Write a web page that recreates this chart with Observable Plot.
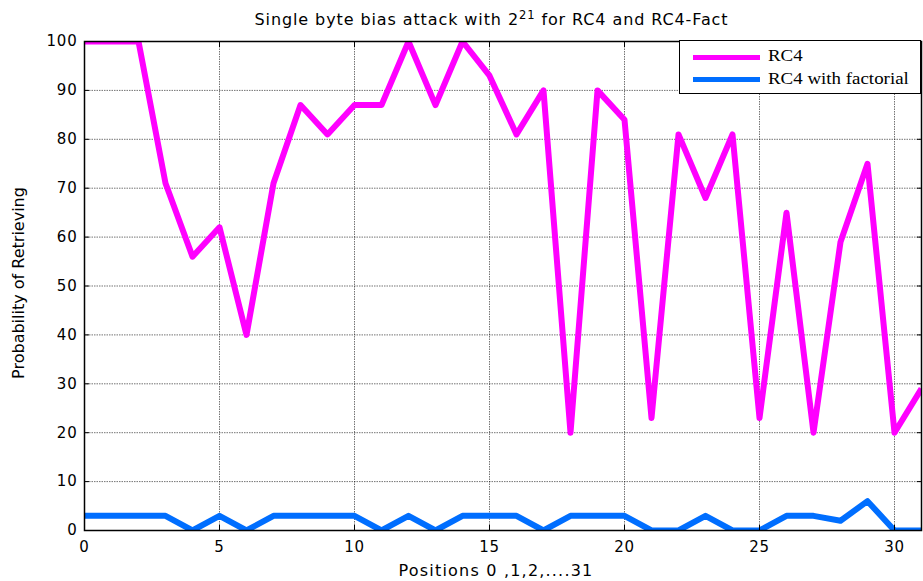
<!DOCTYPE html>
<html>
<head>
<meta charset="utf-8">
<script src="https://cdn.jsdelivr.net/npm/d3@7"></script>
<script src="https://cdn.jsdelivr.net/npm/@observablehq/plot@0.6"></script>
<style>
  body { margin: 0; background: #fff; }
  #wrap { position: relative; width: 923px; height: 581px; overflow: hidden; background: #fff; }
  #title { height: 31px; box-sizing: border-box; padding-top: 12px; padding-left: 62px; padding-right: 2px;
           text-align: center; font: 16px "DejaVu Sans"; line-height: 15px; letter-spacing: 0.9px; white-space: nowrap; color: #000; }
  #title .sup { position: relative; top: -6px; font-size: 11.5px; }
  #chart svg text { letter-spacing: 0.8px; }
  .lg-box { position: absolute; left: 679px; top: 40px; width: 242px; height: 54px; box-sizing: border-box;
            border: 1px solid #000; background: #fff; }
  .lg-sw { position: absolute; left: 693px; width: 67px; height: 5.5px; }
  .lg-tx { position: absolute; left: 768px; font: 16.6px "Liberation Serif"; line-height: 16.6px; white-space: nowrap;
           transform: scaleX(1.14); transform-origin: left center; color: #000; }
</style>
</head>
<body>
<div id="wrap">
  <div id="title"></div>
  <div id="chart"></div>
</div>
<script>
// ---- data ----
const positions = [0,1,2,3,4,5,6,7,8,9,10,11,12,13,14,15,16,17,18,19,20,21,22,23,24,25,26,27,28,29,30,31];
const rc4       = [100,100,100,71,56,62,40,71,87,81,87,87,100,87,100,93,81,90,20,90,84,23,81,68,81,23,65,20,59,75,20,29];
const rc4Fact   = [3,3,3,3,0,3,0,3,3,3,3,0,3,0,3,3,3,0,3,3,3,0,0,3,0,0,3,3,2,6,0,0];
const seriesNames = ["RC4", "RC4 with factorial"];
const seriesColors = ["#ff00ff", "#006eff"];
const xTicks = [0,5,10,15,20,25,30];
const yTicks = [0,10,20,30,40,50,60,70,80,90,100];
const titleText = ["Single byte bias attack with 2", "21", " for RC4 and RC4-Fact"];
const xLabel = "Positions 0 ,1,2,....31";
const yLabel = "Probability of Retrieving";

// ---- title ----
const t = document.getElementById("title");
t.append(titleText[0]);
const sup = document.createElement("span"); sup.className = "sup"; sup.textContent = titleText[1];
t.append(sup);
t.append(titleText[2]);

// ---- table ----
const table = [];
positions.forEach((p, i) => {
  table.push({pos: p, value: rc4[i], series: seriesNames[0]});
});
positions.forEach((p, i) => {
  table.push({pos: p, value: rc4Fact[i], series: seriesNames[1]});
});

const gridStyle = {stroke: "#000", strokeOpacity: 0.55, strokeDasharray: "1.5,1", strokeWidth: 1};

const chart = Plot.plot({
  width: 923, height: 550,
  marginTop: 10, marginBottom: 51, marginLeft: 84, marginRight: 2,
  style: {fontFamily: "DejaVu Sans", fontSize: "15px", color: "#000", background: "#fff", overflow: "visible"},
  x: {domain: [0, 31], label: null},
  y: {domain: [0, 100], label: null},
  color: {domain: seriesNames, range: seriesColors},
  marks: [
    Plot.gridX(xTicks, gridStyle),
    Plot.gridY(yTicks, gridStyle),
    Plot.lineY(table, {x: "pos", y: "value", z: "series", stroke: "series", strokeWidth: 6,
                       strokeLinejoin: "round", strokeLinecap: "butt", clip: true}),
    Plot.frame({stroke: "#000", strokeWidth: 1.5}),
    Plot.axisX(xTicks, {anchor: "bottom", tickSize: -5, tickPadding: 16, label: null, fill: "#000", stroke: "#000"}),
    Plot.axisX(xTicks, {anchor: "top", tickSize: -5, tickFormat: () => "", label: null, stroke: "#000"}),
    Plot.axisY(yTicks, {anchor: "left", tickSize: -5, tickPadding: 12, label: null, fill: "#000", stroke: "#000"}),
    Plot.axisY(yTicks, {anchor: "right", tickSize: -5, tickFormat: () => "", label: null, stroke: "#000"}),
    Plot.text([xLabel], {text: d => d, frameAnchor: "bottom", lineAnchor: "bottom", textAnchor: "middle",
                         dy: 45, dx: -7, fill: "#000", fontSize: 16}),
    Plot.text([yLabel], {text: d => d, frameAnchor: "left", rotate: -90, lineAnchor: "top", textAnchor: "middle",
                         dx: -72, dy: -3, fill: "#000", fontSize: 16})
  ]
});
document.getElementById("chart").appendChild(chart);
d3.select(chart).selectAll("text").filter(function () { return this.textContent === xLabel; })
  .style("letter-spacing", "1.2px");
d3.select(chart).selectAll("text").filter(function () { return this.textContent === yLabel; })
  .style("letter-spacing", "0px");

// ---- legend ----
const wrap = document.getElementById("wrap");
const box = document.createElement("div"); box.className = "lg-box"; wrap.appendChild(box);
const swTops = [54.5, 76.5];
const txTops = [48.2, 71.2];
seriesNames.forEach((name, i) => {
  const sw = document.createElement("div"); sw.className = "lg-sw";
  sw.style.top = swTops[i] + "px"; sw.style.background = seriesColors[i];
  wrap.appendChild(sw);
  const tx = document.createElement("div"); tx.className = "lg-tx";
  tx.style.top = txTops[i] + "px"; tx.textContent = name;
  wrap.appendChild(tx);
});
</script>
</body>
</html>
